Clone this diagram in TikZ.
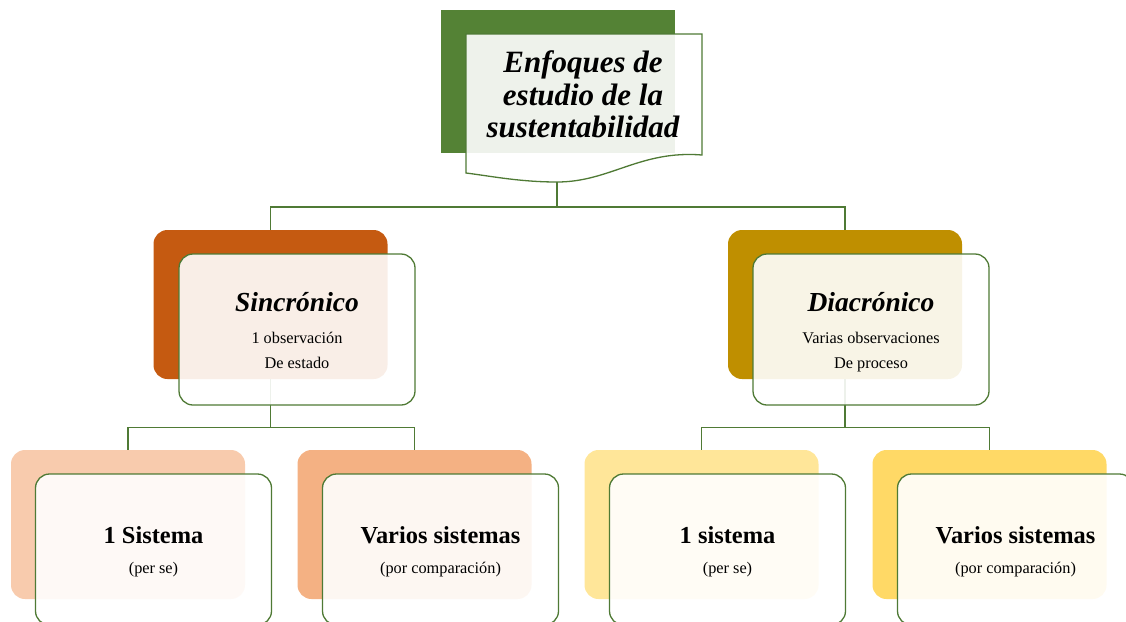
\documentclass[tikz,border=0pt]{standalone}
\usepackage{fontspec}
\setmainfont{Liberation Serif}
\definecolor{gdark}{HTML}{548235}
\definecolor{lineg}{HTML}{4F7A35}
\definecolor{orng}{HTML}{C55A11}
\definecolor{gold}{HTML}{BF8F00}
\definecolor{peach}{HTML}{F8CBAD}
\definecolor{apricot}{HTML}{F4B183}
\definecolor{lyellow}{HTML}{FFE699}
\definecolor{myellow}{HTML}{FFD966}
\begin{document}
\begin{tikzpicture}[x=1pt,y=-1pt,
  backbox/.style={rounded corners=14pt, minimum width=234pt, minimum height=149pt, inner sep=0pt, draw=none},
  frontbox/.style={rounded corners=14pt, minimum width=236pt, minimum height=151pt, inner sep=0pt, draw=lineg, line width=1.3pt, fill=white, fill opacity=0.9},
  conn/.style={draw=lineg, line width=1.3pt},
  bigital/.style={anchor=base, inner sep=0pt, font=\fontsize{27.5}{30}\selectfont\bfseries\itshape},
  bigbold/.style={anchor=base, inner sep=0pt, font=\fontsize{24.4}{28}\selectfont\bfseries},
  small/.style={anchor=base, inner sep=0pt, font=\fontsize{16.3}{20}\selectfont},
  titletxt/.style={anchor=base, inner sep=0pt, font=\fontsize{31}{34}\selectfont\bfseries\itshape}
]
\useasboundingbox (0,0) rectangle (1126,621);
\clip (0,0) rectangle (1126,621);

% title
\fill[gdark] (441,10) rectangle (675,153);
\path[draw=lineg, line width=1.3pt, fill=white, fill opacity=0.9]
  (466,34) -- (702,34) -- (702,155)
  .. controls (640,150) and (610,182) .. (557,182)
  .. controls (520,182) and (490,176) .. (466,173) -- cycle;
\coordinate (tb) at (557,182);

% back boxes
\node[backbox, fill=orng] (sb) at (270.5,304.5) {};
\node[backbox, fill=gold] (db) at (845,304.5) {};
\node[backbox, fill=peach] (b1b) at (128,524.5) {};
\node[backbox, fill=apricot] (b2b) at (414.5,524.5) {};
\node[backbox, fill=lyellow] (b3b) at (701.5,524.5) {};
\node[backbox, fill=myellow] (b4b) at (989.5,524.5) {};

% connectors
\draw[conn] (tb) -- ++(0,25) -| (sb.north);
\draw[conn] (tb) -- ++(0,25) -| (db.north);
\draw[conn] (sb.south) -- ++(0,48) -| (b1b.north);
\draw[conn] (sb.south) -- ++(0,48) -| (b2b.north);
\draw[conn] (db.south) -- ++(0,48) -| (b3b.north);
\draw[conn] (db.south) -- ++(0,48) -| (b4b.north);

% front boxes
\node[frontbox] (sf) at (297,329.5) {};
\node[frontbox] (df) at (871,329.5) {};
\node[frontbox] (b1f) at (153.5,549.5) {};
\node[frontbox] (b2f) at (440.5,549.5) {};
\node[frontbox] (b3f) at (727.5,549.5) {};
\node[frontbox] (b4f) at (1015.5,549.5) {};

% texts
\node[titletxt] (t1) at (583,72) {Enfoques de};
\node[titletxt] (t2) at (583,105) {estudio de la};
\node[titletxt] (t3) at (583,137) {sustentabilidad};

\node[bigital] (s1) at (297,311) {Sincrónico};
\node[small] (s2) at (297,343) {1 observación};
\node[small] (s3) at (297,368) {De estado};

\node[bigital] (d1) at (871,311) {Diacrónico};
\node[small] (d2) at (871,343) {Varias observaciones};
\node[small] (d3) at (871,368) {De proceso};

\node[bigbold] (x1) at (153.5,543) {1 Sistema};
\node[small] (x1s) at (153.5,573) {(per se)};
\node[bigbold] (x2) at (440.5,543) {Varios sistemas};
\node[small] (x2s) at (440.5,573) {(por comparación)};
\node[bigbold] (x3) at (727.5,543) {1 sistema};
\node[small] (x3s) at (727.5,573) {(per se)};
\node[bigbold] (x4) at (1015.5,543) {Varios sistemas};
\node[small] (x4s) at (1015.5,573) {(por comparación)};
\end{tikzpicture}
\end{document}
